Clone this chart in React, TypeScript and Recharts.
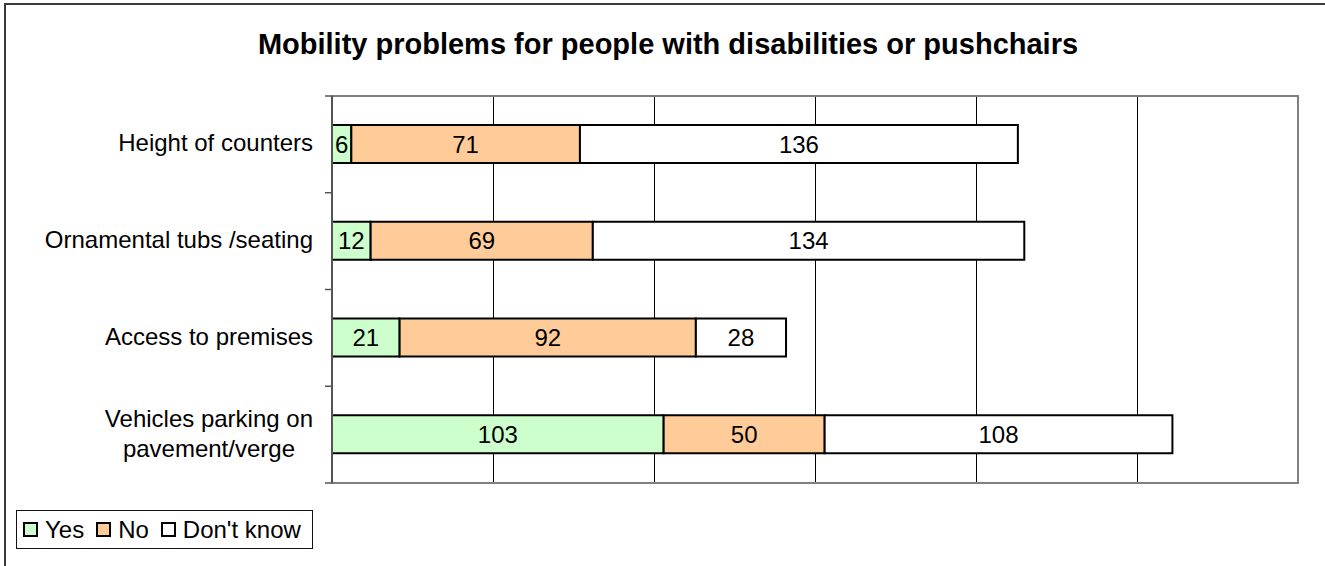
import React from "react";
import { BarChart, Bar, XAxis, YAxis, CartesianGrid, LabelList, Legend, ReferenceArea } from "recharts";

const categories = [
  "Height of counters",
  "Ornamental tubs /seating",
  "Access to premises",
  "Vehicles parking on\npavement/verge",
];
const yesValues = [6, 12, 21, 103];
const noValues = [71, 69, 92, 50];
const dontKnowValues = [136, 134, 28, 108];
const xTicks = [0, 50, 100, 150, 200, 250, 300];
const seriesNames = ["Yes", "No", "Don't know"];
const seriesColors = ["#CCFFCC", "#FFCC99", "#FFFFFF"];

const data = categories.map((name, i) => ({
  name,
  yes: yesValues[i],
  no: noValues[i],
  dk: dontKnowValues[i],
}));

const FONT = "'Liberation Sans', Arial, Helvetica, sans-serif";
const W = 1325;
const H = 566;
const margin = { top: 96, right: 27, bottom: 83, left: 0 };
const band = (H - margin.top - margin.bottom) / categories.length;

let ctx: CanvasRenderingContext2D | null = null;
const measure = (s: string) => {
  if (!ctx) ctx = document.createElement("canvas").getContext("2d");
  if (!ctx) return s.length * 12;
  ctx.font = `24px ${FONT}`;
  return ctx.measureText(s).width;
};

// label text plus the small tick marks that sit on the category boundaries
const CategoryTick = (props: any) => {
  const { x, y, payload, index } = props;
  const lines = String(payload.value).split("\n");
  const axisX = x + 19;
  const top = y - band / 2;
  const bottom = y + band / 2;
  const first = y + 7 - ((lines.length - 1) * 30) / 2;
  const maxW = Math.max(...lines.map(measure));
  const multi = lines.length > 1;
  return (
    <g>
      <line x1={axisX - 7} x2={axisX} y1={top} y2={top} stroke="#555" strokeWidth={1.5} />
      {index === categories.length - 1 && (
        <line x1={axisX - 7} x2={axisX} y1={bottom} y2={bottom} stroke="#555" strokeWidth={1.5} />
      )}
      <text
        x={multi ? x - maxW / 2 : x}
        y={first}
        textAnchor={multi ? "middle" : "end"}
        fontSize={24}
        fontFamily={FONT}
        fill="#000"
      >
        {lines.map((l, i) => (
          <tspan key={i} x={multi ? x - maxW / 2 : x} y={first + i * 30}>
            {l}
          </tspan>
        ))}
      </text>
    </g>
  );
};

const LegendBox = () => (
  <div
    style={{
      boxSizing: "border-box",
      width: 297,
      height: 39,
      border: "1px solid #111",
      background: "#fff",
      display: "flex",
      alignItems: "center",
      paddingLeft: 6,
      fontFamily: FONT,
      fontSize: 24,
      color: "#000",
      whiteSpace: "nowrap",
    }}
  >
    {seriesNames.map((n, i) => (
      <div key={n} style={{ display: "flex", alignItems: "center", marginRight: 12, flexShrink: 0 }}>
        <span
          style={{
            display: "inline-block",
            boxSizing: "border-box",
            width: 15,
            height: 15,
            border: "2px solid #000",
            background: seriesColors[i],
            marginRight: 7,
            flexShrink: 0,
          }}
        />
        <span style={{ lineHeight: "24px" }}>{n}</span>
      </div>
    ))}
  </div>
);

export default function App() {
  return (
    <div
      style={{
        position: "absolute",
        left: 0,
        top: 0,
        width: W,
        height: H,
        overflow: "hidden",
        background: "#fff",
        fontFamily: FONT,
      }}
    >
      <div
        style={{
          position: "absolute",
          left: 4,
          top: 3,
          width: W + 20,
          height: H + 20,
          border: "2px solid #3a3a3a",
        }}
      />
      <div
        style={{
          position: "absolute",
          left: 5,
          width: 1326,
          top: 30,
          textAlign: "center",
          fontSize: 29,
          fontWeight: "bold",
          lineHeight: "29px",
          color: "#000",
        }}
      >
        Mobility problems for people with disabilities or pushchairs
      </div>
      <div style={{ position: "absolute", left: 0, top: 0 }}>
        <BarChart width={W} height={H} data={data} layout="vertical" margin={margin}>
          <CartesianGrid horizontal={false} stroke="#000" strokeWidth={1} shapeRendering="crispEdges" />
          <XAxis type="number" domain={[0, 300]} ticks={xTicks} hide />
          <YAxis
            type="category"
            dataKey="name"
            width={332}
            tickLine={false}
            tickSize={7}
            tickMargin={12}
            axisLine={{ stroke: "#555", strokeWidth: 2 }}
            tick={<CategoryTick />}
            interval={0}
          />
          <ReferenceArea x1={0} x2={300} fill="none" stroke="#808080" strokeWidth={2} fillOpacity={0} />
          <Bar dataKey="yes" name={seriesNames[0]} stackId="s" fill={seriesColors[0]} stroke="#000" strokeWidth={2} barSize={38} isAnimationActive={false}>
            <LabelList dataKey="yes" position="center" fill="#000" stroke="none" fontSize={24} fontFamily={FONT} />
          </Bar>
          <Bar dataKey="no" name={seriesNames[1]} stackId="s" fill={seriesColors[1]} stroke="#000" strokeWidth={2} barSize={38} isAnimationActive={false}>
            <LabelList dataKey="no" position="center" fill="#000" stroke="none" fontSize={24} fontFamily={FONT} />
          </Bar>
          <Bar dataKey="dk" name={seriesNames[2]} stackId="s" fill={seriesColors[2]} stroke="#000" strokeWidth={2} barSize={38} isAnimationActive={false}>
            <LabelList dataKey="dk" position="center" fill="#000" stroke="none" fontSize={24} fontFamily={FONT} />
          </Bar>
          <Legend
            layout="horizontal"
            align="center"
            verticalAlign="middle"
            content={<LegendBox />}
            wrapperStyle={{ left: 16, top: 510, width: 297, height: 39 }}
          />
        </BarChart>
      </div>
    </div>
  );
}
